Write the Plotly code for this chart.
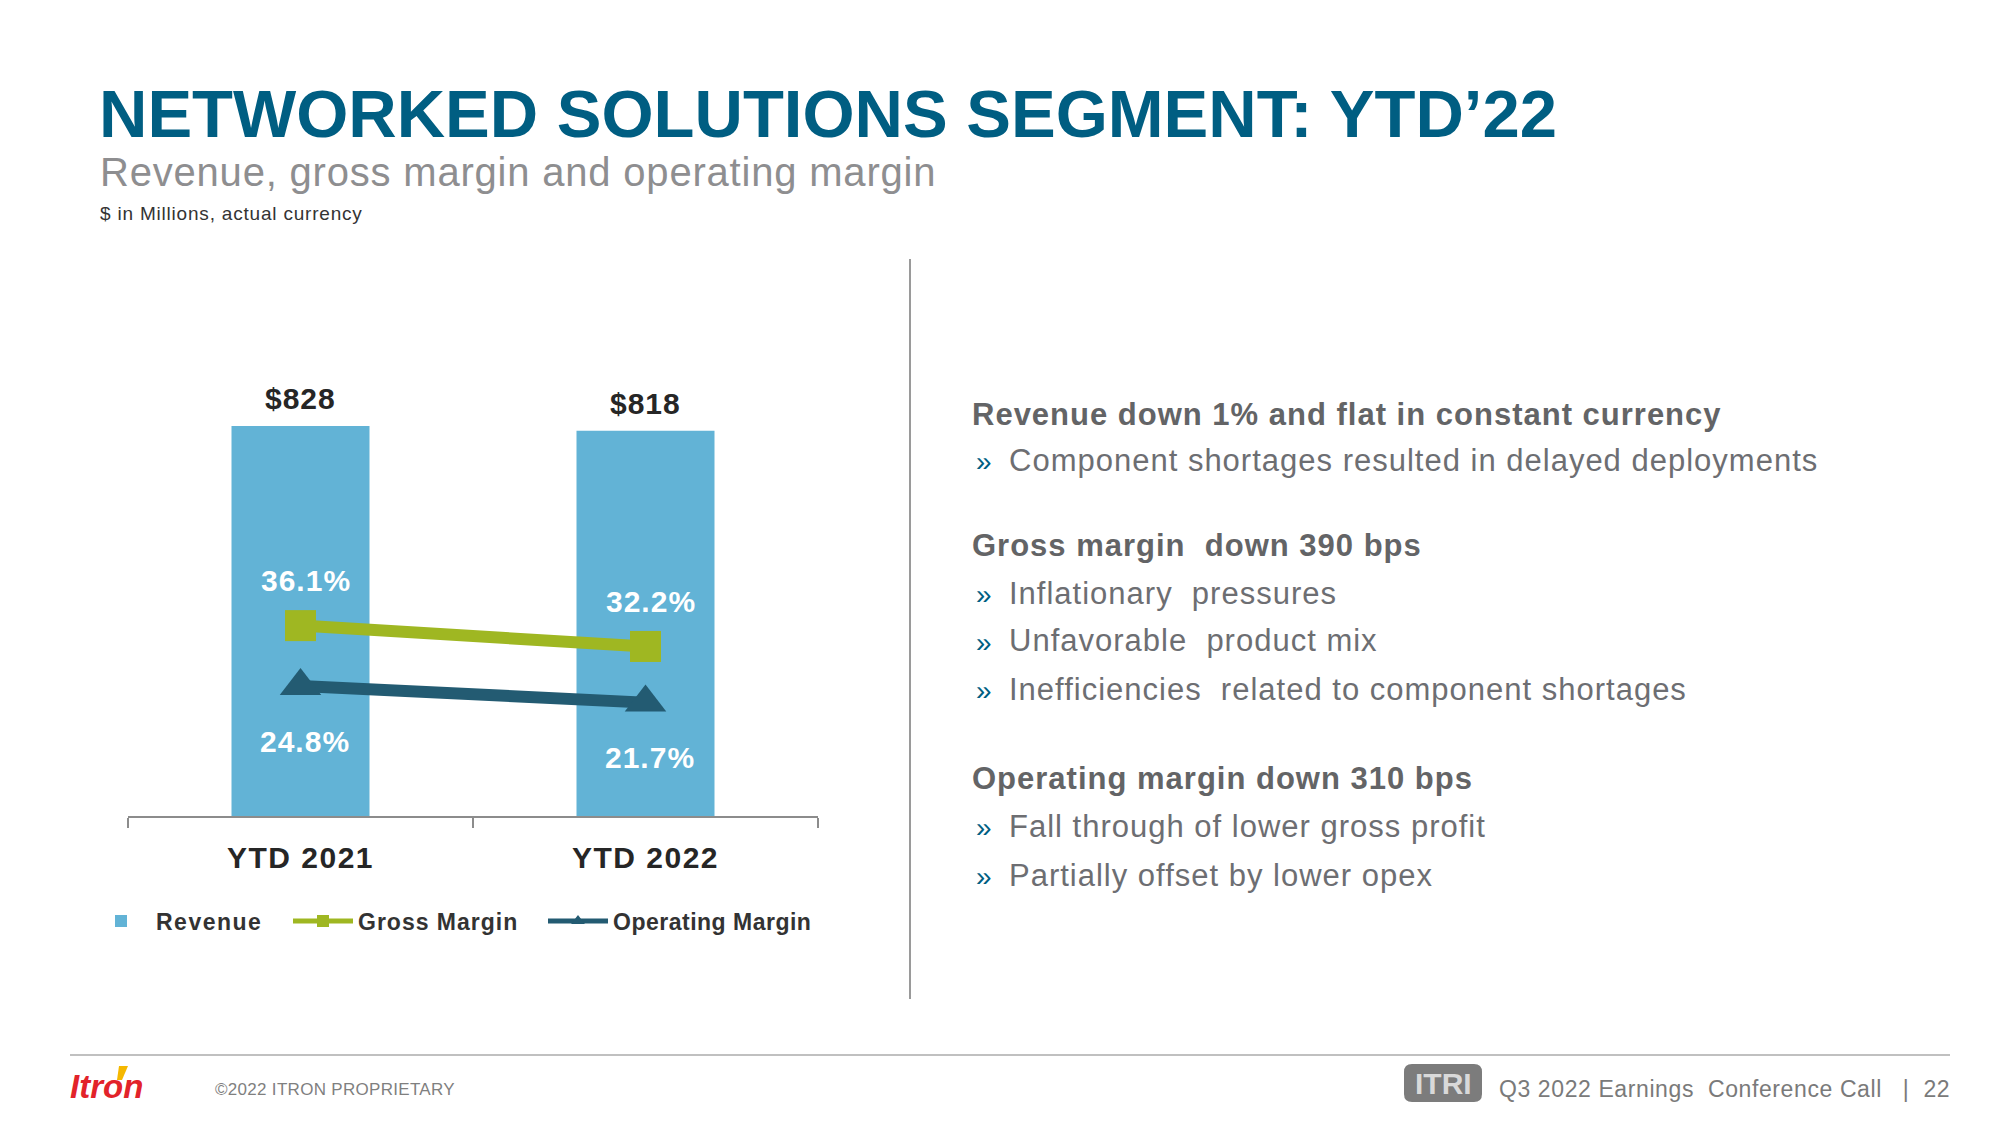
import plotly.graph_objects as go

W, H = 2000, 1126

categories = ["YTD 2021", "YTD 2022"]
revenue = [828, 818]
gross_margin = [36.1, 32.2]
operating_margin = [24.8, 21.7]

title_text = "NETWORKED SOLUTIONS SEGMENT: YTD\u201922"
subtitle_text = "Revenue, gross margin and operating margin"
units_text = "$ in Millions, actual currency"

bullet_blocks = [
    ("Revenue down 1% and flat in constant currency",
     ["Component shortages resulted in delayed deployments"]),
    ("Gross margin  down 390 bps",
     ["Inflationary  pressures", "Unfavorable  product mix",
      "Inefficiencies  related to component shortages"]),
    ("Operating margin down 310 bps",
     ["Fall through of lower gross profit", "Partially offset by lower opex"]),
]

FONT = "Liberation Sans, Arial, sans-serif"
C_BAR = "#62B3D6"
C_GM = "#9FB722"
C_OM = "#235B72"
C_TITLE = "#005E82"
C_DARK = "#262626"


def px(x):
    return x / W


def py(y):
    return 1 - y / H


def sp(t, s):
    return f"<span style='letter-spacing:{s}px'>{t}</span>"


fig = go.Figure()
fig.add_trace(go.Bar(
    x=categories, y=revenue, name=sp("Revenue", 1.5), marker=dict(color=C_BAR, line=dict(width=0)),
    width=0.4, yaxis="y", legend="legend",
))
fig.add_trace(go.Scatter(
    x=categories, y=gross_margin, name=sp("Gross Margin", 1), mode="lines+markers",
    line=dict(color=C_GM, width=12), marker=dict(symbol="square", size=31, color=C_GM),
    yaxis="y2", cliponaxis=False, legend="legend2",
))
fig.add_trace(go.Scatter(
    x=categories, y=operating_margin, name=sp("Operating Margin", 0.5), mode="lines+markers",
    line=dict(color=C_OM, width=12), marker=dict(symbol="triangle-up", size=36, color=C_OM),
    yaxis="y2", cliponaxis=False, legend="legend3",
))

annotations = []
for c, v in zip(categories, revenue):
    annotations.append(dict(x=c, y=v, xref="x", yref="y", text=sp(f"${v}", 1), showarrow=False,
                            yshift=27, yanchor="middle",
                            font=dict(family=FONT, size=30, color=C_DARK, weight="bold")))
for c, v in zip(categories, gross_margin):
    annotations.append(dict(x=c, y=v, xref="x", yref="y2", text=sp(f"{v:.1f}%", 1), showarrow=False,
                            yshift=45, xshift=5,
                            font=dict(family=FONT, size=30, color="white", weight="bold")))
for c, v in zip(categories, operating_margin):
    annotations.append(dict(x=c, y=v, xref="x", yref="y2", text=sp(f"{v:.1f}%", 1), showarrow=False,
                            yshift=-55, xshift=4,
                            font=dict(family=FONT, size=30, color="white", weight="bold")))

# Titles
annotations.append(dict(x=px(97), y=py(114), xref="paper", yref="paper", xanchor="left", yanchor="middle",
                        text=f"<b>{title_text}</b>", showarrow=False,
                        font=dict(family=FONT, size=67, color=C_TITLE)))
annotations.append(dict(x=px(98), y=py(172), xref="paper", yref="paper", xanchor="left", yanchor="middle",
                        text=sp(subtitle_text, 0.8), showarrow=False,
                        font=dict(family=FONT, size=40, color="#8E8E90")))
annotations.append(dict(x=px(98), y=py(214), xref="paper", yref="paper", xanchor="left", yanchor="middle",
                        text=sp(units_text, 0.8), showarrow=False,
                        font=dict(family=FONT, size=19, color="#333333")))

# Right-hand text block
ys_head = [414, 545, 778]
ys_items = [[460], [593, 641, 689], [826, 875]]
for (head, items), yh, yis in zip(bullet_blocks, ys_head, ys_items):
    annotations.append(dict(x=px(970), y=py(yh), xref="paper", yref="paper", xanchor="left", yanchor="middle",
                            text=f"<b>{sp(head, 1)}</b>", showarrow=False,
                            font=dict(family=FONT, size=31, color="#636466")))
    for it, yi in zip(items, yis):
        annotations.append(dict(x=px(974), y=py(yi + 1), xref="paper", yref="paper", xanchor="left",
                                yanchor="middle", text="\u00bb", showarrow=False,
                                font=dict(family=FONT, size=28, color=C_TITLE)))
        annotations.append(dict(x=px(1007), y=py(yi), xref="paper", yref="paper", xanchor="left",
                                yanchor="middle", text=sp(it, 1), showarrow=False,
                                font=dict(family=FONT, size=31, color="#6D6E72")))

# Footer
annotations.append(dict(x=px(68), y=py(1086), xref="paper", yref="paper", xanchor="left", yanchor="middle",
                        text="<b><i>Itron</i></b>", showarrow=False,
                        font=dict(family=FONT, size=33, color="#E2232A")))
annotations.append(dict(x=px(213), y=py(1089), xref="paper", yref="paper", xanchor="left", yanchor="middle",
                        text=sp("\u00a92022 ITRON PROPRIETARY", 0.3), showarrow=False,
                        font=dict(family=FONT, size=17, color="#7F7F7F")))
annotations.append(dict(x=px(1443), y=py(1083), xref="paper", yref="paper", xanchor="center", yanchor="middle",
                        text="<b>ITRI</b>", showarrow=False,
                        font=dict(family=FONT, size=30, color="#D9D9D9")))
annotations.append(dict(x=px(1952), y=py(1089), xref="paper", yref="paper", xanchor="right", yanchor="middle",
                        text=sp("Q3 2022 Earnings  Conference Call   |  22", 0.6), showarrow=False,
                        font=dict(family=FONT, size=23, color="#7A7A7A")))

shapes = [
    dict(type="line", xref="paper", yref="paper", x0=px(910), x1=px(910), y0=py(259), y1=py(999),
         line=dict(color="#9A9A9A", width=2)),
    dict(type="line", xref="paper", yref="paper", x0=px(70), x1=px(1950), y0=py(1055), y1=py(1055),
         line=dict(color="#C0C0C0", width=2)),
    dict(type="path", xref="paper", yref="paper",
         path=(f"M {px(1412)},{py(1064)} L {px(1474)},{py(1064)} Q {px(1482)},{py(1064)} {px(1482)},{py(1072)} "
               f"L {px(1482)},{py(1094)} Q {px(1482)},{py(1102)} {px(1474)},{py(1102)} L {px(1412)},{py(1102)} "
               f"Q {px(1404)},{py(1102)} {px(1404)},{py(1094)} L {px(1404)},{py(1072)} "
               f"Q {px(1404)},{py(1064)} {px(1412)},{py(1064)} Z"),
         fillcolor="#7C7C7C", line=dict(width=0)),
    dict(type="path", xref="paper", yref="paper",
         path=f"M {px(119)},{py(1066)} L {px(128)},{py(1066)} L {px(122)},{py(1080)} L {px(117)},{py(1080)} Z",
         fillcolor="#F5B800", line=dict(width=0)),
]

legend_common = dict(orientation="h", yanchor="middle", xanchor="left", y=py(921),
                     font=dict(family=FONT, size=23, color="#333333", weight="bold"),
                     itemsizing="constant", itemwidth=60, bgcolor="rgba(0,0,0,0)")

fig.update_layout(
    width=W, height=H, margin=dict(l=0, r=0, t=0, b=0),
    paper_bgcolor="white", plot_bgcolor="white",
    font=dict(family=FONT),
    bargap=0.6,
    xaxis=dict(domain=[px(128), px(818)], type="category", showline=True, linecolor="#8C8C8C", linewidth=2,
               ticks="outside", tickson="boundaries", ticklen=10, tickwidth=2, tickcolor="#8C8C8C",
               tickvals=categories, ticktext=[sp(c, 1.5) for c in categories],
               tickfont=dict(family=FONT, size=30, color=C_DARK, weight="bold"), ticklabelstandoff=14,
               showgrid=False, zeroline=False),
    yaxis=dict(domain=[py(816), py(286)], range=[0, 1125], visible=False, showgrid=False, zeroline=False),
    yaxis2=dict(domain=[py(816), py(286)], range=[0.5, 99.6], overlaying="y", visible=False,
                showgrid=False, zeroline=False),
    legend=dict(x=px(86), **legend_common),
    legend2=dict(x=px(288), **legend_common),
    legend3=dict(x=px(543), **legend_common),
    showlegend=True,
    annotations=annotations, shapes=shapes,
)

fig.write_html("out.html")
